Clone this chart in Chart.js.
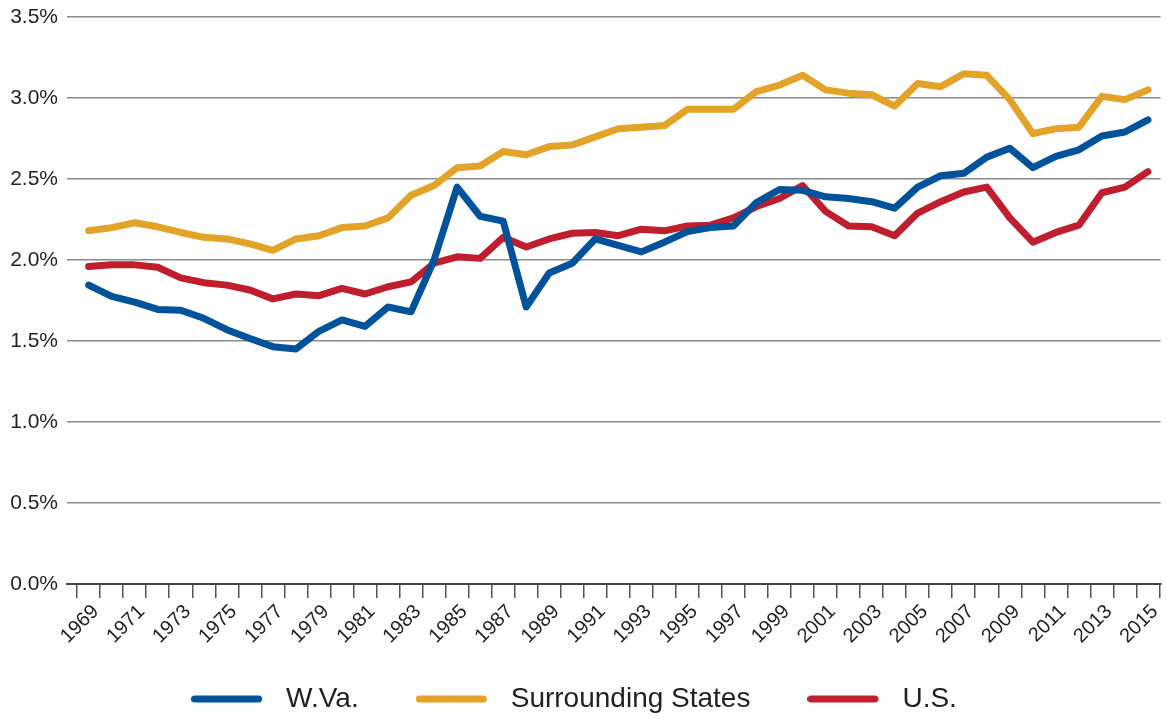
<!DOCTYPE html>
<html>
<head>
<meta charset="utf-8">
<script src="https://cdn.jsdelivr.net/npm/chart.js@4.4.1/dist/chart.umd.min.js"></script>
<style>
  html, body { margin: 0; padding: 0; background: #fff; overflow: hidden; }
  #wrap { width: 1167px; height: 723px; }
</style>
</head>
<body>
<div id="wrap"><canvas id="c" width="1167" height="723"></canvas></div>
<script>
const years = [];
for (let y = 1969; y <= 2015; y++) years.push(y);

const wva = [1.845,1.775,1.74,1.695,1.69,1.64,1.57,1.515,1.465,1.45,1.56,1.63,1.59,1.71,1.68,2.00,
  2.45,2.27,2.24,1.71,1.92,1.98,2.13,2.09,2.05,2.11,2.175,2.20,2.21,2.355,2.435,
  2.43,2.39,2.38,2.36,2.32,2.45,2.52,2.535,2.635,2.69,2.57,2.64,2.68,2.765,2.79,2.865];

const surrounding = [2.18,2.20,2.23,2.205,2.17,2.14,2.13,2.10,2.06,2.13,2.15,2.20,2.21,2.26,2.40,2.46,
  2.57,2.58,2.67,2.65,2.70,2.71,2.76,2.81,2.82,2.83,2.93,2.93,2.93,3.04,3.08,
  3.14,3.05,3.03,3.02,2.95,3.09,3.07,3.15,3.14,2.99,2.78,2.81,2.82,3.01,2.99,3.05];

const us = [1.96,1.97,1.97,1.955,1.89,1.86,1.845,1.815,1.76,1.79,1.78,1.825,1.79,1.835,1.865,1.98,
  2.02,2.01,2.14,2.08,2.13,2.165,2.17,2.15,2.19,2.18,2.21,2.215,2.26,2.33,2.38,
  2.46,2.30,2.21,2.205,2.15,2.29,2.36,2.42,2.45,2.26,2.11,2.17,2.215,2.415,2.45,2.545];

const yTicks = [0, 0.5, 1.0, 1.5, 2.0, 2.5, 3.0, 3.5];

const seriesNames = ['W.Va.', 'Surrounding States', 'U.S.'];
const seriesColors = ['#00529B', '#E2A328', '#BE1E2D'];
const seriesValues = [wva, surrounding, us];

// legend swatch: rounded line drawn in the left part of a small canvas
function swatch(color) {
  const c = document.createElement('canvas');
  c.width = 94; c.height = 10;
  const g = c.getContext('2d');
  g.strokeStyle = color;
  g.lineWidth = 7;
  g.lineCap = 'round';
  g.beginPath();
  g.moveTo(3.5, 5);
  g.lineTo(67.5, 5);
  g.stroke();
  return c;
}

Chart.defaults.font.family = "'Liberation Sans', Arial, Helvetica, sans-serif";
Chart.defaults.color = '#231f20';

const datasets = seriesNames.map((name, i) => ({
  label: name,
  data: years.map((yr, j) => ({ x: yr, y: seriesValues[i][j] })),
  borderColor: seriesColors[i],
  backgroundColor: seriesColors[i],
  borderWidth: 7,
  borderCapStyle: 'round',
  borderJoinStyle: 'round',
  pointRadius: 0,
  pointHoverRadius: 0,
  pointStyle: swatch(seriesColors[i]),
  tension: 0,
  fill: false
}));

const unclipLabels = {
  id: 'unclipLabels',
  afterLayout(chart) {
    chart.scales.x.bottom = chart.height;
  }
};

new Chart(document.getElementById('c'), {
  type: 'line',
  data: { datasets },
  plugins: [unclipLabels],
  options: {
    responsive: false,
    animation: false,
    events: [],
    layout: { padding: { top: 17, right: 6, left: 0, bottom: 0 } },
    plugins: {
      tooltip: { enabled: false },
      legend: {
        position: 'bottom',
        labels: {
          font: { size: 28 },
          color: '#231f20',
          usePointStyle: true,
          pointStyleWidth: 68,
          padding: 70
        }
      }
    },
    scales: {
      x: {
        type: 'linear',
        min: 1968.06,
        max: 2015.545,
        afterBuildTicks: (scale) => { scale.ticks = years.map(v => ({ value: v })); },
        afterFit: (scale) => { scale.height = 31; },
        grid: {
          offset: true,
          drawOnChartArea: false,
          drawTicks: true,
          tickLength: 14,
          color: '#555',
          lineWidth: 1.5
        },
        border: { display: true, color: '#444', width: 2 },
        ticks: {
          autoSkip: false,
          minRotation: 45,
          maxRotation: 45,
          padding: 2,
          labelOffset: 7,
          font: { size: 20 },
          color: '#231f20',
          callback: (v) => ((v - 1969) % 2 === 0 ? String(v) : '')
        }
      },
      y: {
        min: 0,
        max: 3.5,
        afterBuildTicks: (scale) => { scale.ticks = yTicks.map(v => ({ value: v })); },
        afterFit: (scale) => { scale.width = 67; scale.paddingTop = 0; scale.paddingBottom = 0; },
        grid: {
          drawTicks: false,
          color: '#8a8a8a',
          lineWidth: 1.5
        },
        border: { display: false },
        ticks: {
          padding: 9,
          font: { size: 21 },
          color: '#231f20',
          callback: (v) => Number(v).toFixed(1) + '%'
        }
      }
    }
  }
});
</script>
</body>
</html>
